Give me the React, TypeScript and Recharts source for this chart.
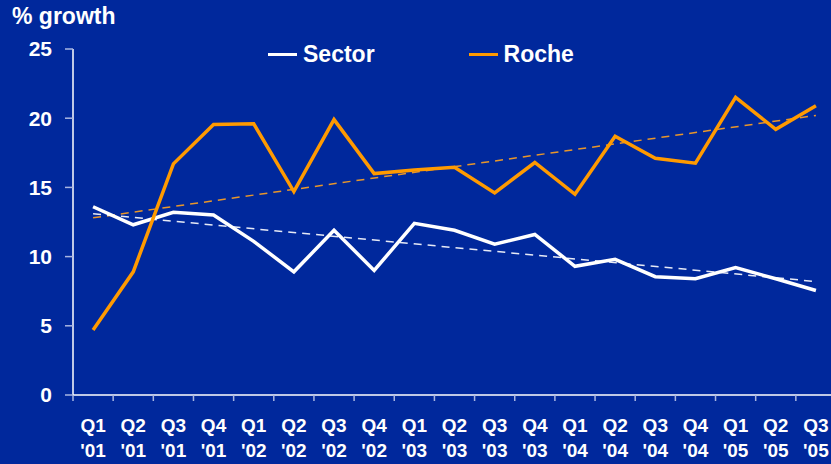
import React from "react";
import { LineChart, Line, XAxis, YAxis, Legend } from "recharts";

const quarters = ["Q1", "Q2", "Q3", "Q4", "Q1", "Q2", "Q3", "Q4", "Q1", "Q2", "Q3", "Q4", "Q1", "Q2", "Q3", "Q4", "Q1", "Q2", "Q3"];
const years = ["'01", "'01", "'01", "'01", "'02", "'02", "'02", "'02", "'03", "'03", "'03", "'03", "'04", "'04", "'04", "'04", "'05", "'05", "'05"];

const sector = [13.6, 12.3, 13.2, 13.0, 11.1, 8.9, 11.9, 9.0, 12.4, 11.9, 10.9, 11.6, 9.3, 9.8, 8.55, 8.4, 9.2, 8.4, 7.55];
const roche = [4.7, 8.9, 16.7, 19.55, 19.6, 14.7, 19.9, 16.0, 16.25, 16.45, 14.6, 16.8, 14.5, 18.7, 17.1, 16.75, 21.5, 19.2, 20.9];

// trend lines: start and end values only, drawn straight by connectNulls
const sectorTrendEnds = [13.1, 8.2];
const rocheTrendEnds = [12.8, 20.2];

const yTicks = [0, 5, 10, 15, 20, 25];
const legendOrder = ["Sector", "Roche"];

const BG = "#00289C";
const ORANGE = "#FF9A00";
const FONT = "'Liberation Sans', Arial, sans-serif";

const last = quarters.length - 1;
const data = quarters.map((q, i) => ({
  key: `${q} ${years[i]}`,
  q,
  yr: years[i],
  sector: sector[i],
  roche: roche[i],
  sectorTrend: i === 0 ? sectorTrendEnds[0] : i === last ? sectorTrendEnds[1] : null,
  rocheTrend: i === 0 ? rocheTrendEnds[0] : i === last ? rocheTrendEnds[1] : null,
}));

const QuarterTick = (props: any) => {
  const { x, y, payload, index } = props;
  const row = data[index] || data[payload.index] || data[0];
  const half = payload.offset ?? 763 / quarters.length / 2;
  return (
    <g>
      <line x1={x - half} x2={x - half} y1={y} y2={y + 6} stroke="#A9B6E2" strokeWidth={1.5} />
      <text x={x} y={y + 37} textAnchor="middle" fill="#fff" fontSize={19} fontWeight="bold" fontFamily={FONT}>
        {row.q}
      </text>
      <text x={x} y={y + 62} textAnchor="middle" fill="#fff" fontSize={19} fontWeight="bold" fontFamily={FONT}>
        {row.yr}
      </text>
    </g>
  );
};

const LegendContent = (props: any) => {
  const items = (props.payload || [])
    .filter((p: any) => p.type !== "none")
    .sort((a: any, b: any) => legendOrder.indexOf(a.value) - legendOrder.indexOf(b.value));
  return (
    <div style={{ display: "flex", alignItems: "center", height: 28 }}>
      {items.map((p: any, i: number) => (
        <div key={p.value} style={{ display: "flex", alignItems: "center", marginLeft: i === 0 ? 0 : 94 }}>
          <div style={{ width: 29, height: 3, background: p.color, marginRight: 6 }} />
          <span style={{ color: "#fff", fontFamily: FONT, fontWeight: "bold", fontSize: 23 }}>{p.value}</span>
        </div>
      ))}
    </div>
  );
};

export default function App() {
  return (
    <div style={{ position: "relative", width: 831, height: 464, overflow: "hidden", background: BG }}>
      <style>{`body{margin:0}`}</style>
      <div
        style={{
          position: "absolute",
          left: 12,
          top: 5,
          color: "#fff",
          fontFamily: FONT,
          fontWeight: "bold",
          fontSize: 23,
          lineHeight: "23px",
          zIndex: 2,
        }}
      >
        % growth
      </div>
      <LineChart width={836} height={464} data={data} margin={{ top: 49, right: 0, bottom: 0, left: 0 }}>
        <XAxis
          dataKey="key"
          scale="band"
          height={69}
          interval={0}
          tickSize={0}
          tickMargin={0}
          tickLine={false}
          axisLine={{ stroke: "#fff", strokeWidth: 1.5 }}
          tick={<QuarterTick />}
        />
        <YAxis
          width={73}
          domain={[0, 25]}
          ticks={yTicks}
          interval={0}
          tickSize={8}
          tickMargin={13}
          axisLine={{ stroke: "#fff", strokeWidth: 1.5 }}
          tickLine={{ stroke: "#A9B6E2", strokeWidth: 1.5 }}
          tick={{ fill: "#fff", fontSize: 21, fontWeight: "bold", fontFamily: FONT }}
        />
        <Legend
          layout="horizontal"
          verticalAlign="middle"
          align="center"
          wrapperStyle={{ top: 40, left: 268, width: 420 }}
          content={<LegendContent />}
        />
        <Line
          dataKey="rocheTrend"
          stroke="#E8962A"
          strokeWidth={1.5}
          strokeDasharray="8 6"
          dot={false}
          activeDot={false}
          connectNulls
          legendType="none"
          isAnimationActive={false}
        />
        <Line
          dataKey="sectorTrend"
          stroke="#E6EAF6"
          strokeWidth={1.5}
          strokeDasharray="8 6"
          dot={false}
          activeDot={false}
          connectNulls
          legendType="none"
          isAnimationActive={false}
        />
        <Line
          dataKey="sector"
          name="Sector"
          stroke="#FFFFFF"
          strokeWidth={3.5}
          dot={false}
          isAnimationActive={false}
        />
        <Line
          dataKey="roche"
          name="Roche"
          stroke={ORANGE}
          strokeWidth={3.5}
          dot={false}
          isAnimationActive={false}
        />
      </LineChart>
    </div>
  );
}
